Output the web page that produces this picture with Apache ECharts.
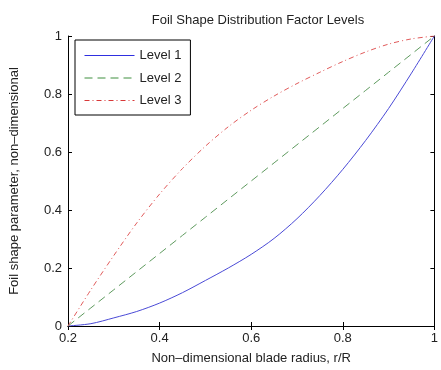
<!DOCTYPE html>
<html>
<head>
<meta charset="utf-8">
<script src="https://cdn.jsdelivr.net/npm/echarts@6/dist/echarts.min.js"></script>
<style>
  html, body { margin: 0; padding: 0; background: #fff; }
  #chart { width: 441px; height: 370px; }
</style>
</head>
<body>
<div id="chart"></div>
<script>
// Non-dimensional blade radius r/R
var radius = [0.2, 0.25, 0.3, 0.35, 0.4, 0.45, 0.5, 0.55, 0.6, 0.65, 0.7, 0.75, 0.8, 0.85, 0.9, 0.95, 1.0];
// Foil shape parameter for each distribution factor level
var level1 = [0, 0.008, 0.028, 0.05, 0.079, 0.115, 0.157, 0.2, 0.247, 0.302, 0.37, 0.45, 0.54, 0.64, 0.75, 0.872, 1.0];
var level2 = [0, 0.0625, 0.125, 0.1875, 0.25, 0.3125, 0.375, 0.4375, 0.5, 0.5625, 0.625, 0.6875, 0.75, 0.8125, 0.875, 0.9375, 1.0];
var level3 = [0, 0.125, 0.243, 0.355, 0.455, 0.543, 0.62, 0.687, 0.744, 0.793, 0.836, 0.875, 0.912, 0.945, 0.972, 0.99, 1.0];
var seriesNames = ['Level 1', 'Level 2', 'Level 3'];

function pairs(xs, ys) {
  return xs.map(function (x, i) { return [x, ys[i]]; });
}

var FONT = '"Liberation Sans", Arial, sans-serif';
var tickFmt = function (v) { return String(Math.round(v * 10) / 10); };

var chart = echarts.init(document.getElementById('chart'), null, { renderer: 'canvas' });

var boxAxisLine = { show: true, lineStyle: { color: '#000', width: 1 } };
var boxTick = { show: true, inside: true, length: 4, lineStyle: { color: '#000', width: 1 } };

var colors = ['#4a4ad6', '#5e9a5e', '#e05a5a'];
var legendColors = ['#2f2fe0', '#3f8f3f', '#d83838'];
var dashes = [[60, 0], [8, 5], [5, 3, 1, 3]];

chart.setOption({
  animation: false,
  backgroundColor: '#fff',
  title: {
    text: 'Foil Shape Distribution Factor Levels',
    left: 253, top: 9, textAlign: 'center',
    textStyle: { fontFamily: FONT, fontSize: 13, fontWeight: 'normal', color: '#222' }
  },
  legend: {
    data: seriesNames.map(function (n, i) {
      return { name: n, lineStyle: { color: legendColors[i], width: 1, type: dashes[i] } };
    }),
    orient: 'vertical',
    left: 75, top: 40,
    padding: [9, 9, 8, 9],
    itemWidth: 50, itemHeight: 14, itemGap: 9.5,
    borderColor: '#000', borderWidth: 1,
    backgroundColor: '#fff',
    itemStyle: { opacity: 0 },
    textStyle: { fontFamily: FONT, fontSize: 13, color: '#222' }
  },
  grid: { left: 66, right: 1, top: 36, bottom: 42, containLabel: false },
  xAxis: [{
    type: 'value', min: 0.2, max: 1, interval: 0.2,
    name: 'Non\u2013dimensional blade radius, r/R',
    nameLocation: 'middle', nameGap: 26,
    nameTextStyle: { fontFamily: FONT, fontSize: 13, color: '#222' },
    axisLine: boxAxisLine, axisTick: boxTick,
    axisLabel: { fontFamily: FONT, fontSize: 13, color: '#222', margin: 6, formatter: tickFmt },
    splitLine: { show: false }
  }, {
    type: 'value', min: 0.2, max: 1, interval: 0.2, position: 'top',
    axisLine: boxAxisLine, axisTick: boxTick,
    axisLabel: { show: false }, splitLine: { show: false }
  }],
  yAxis: [{
    type: 'value', min: 0, max: 1, interval: 0.2,
    name: 'Foil shape parameter, non\u2013dimensional',
    nameLocation: 'middle', nameGap: 47, nameRotate: 90,
    nameTextStyle: { fontFamily: FONT, fontSize: 13, color: '#222' },
    axisLine: boxAxisLine, axisTick: boxTick,
    axisLabel: { fontFamily: FONT, fontSize: 13, color: '#222', margin: 6, formatter: tickFmt },
    splitLine: { show: false }
  }, {
    type: 'value', min: 0, max: 1, interval: 0.2, position: 'right',
    axisLine: boxAxisLine, axisTick: boxTick,
    axisLabel: { show: false }, splitLine: { show: false }
  }],
  series: seriesNames.map(function (n, i) {
    return {
      name: n, type: 'line', symbol: 'none', showSymbol: false,
      smooth: i === 1 ? false : 0.3,
      data: pairs(radius, [level1, level2, level3][i]),
      lineStyle: { color: colors[i], width: 1, type: i === 0 ? 'solid' : dashes[i] },
      itemStyle: { color: colors[i] }
    };
  })
});
</script>
</body>
</html>
